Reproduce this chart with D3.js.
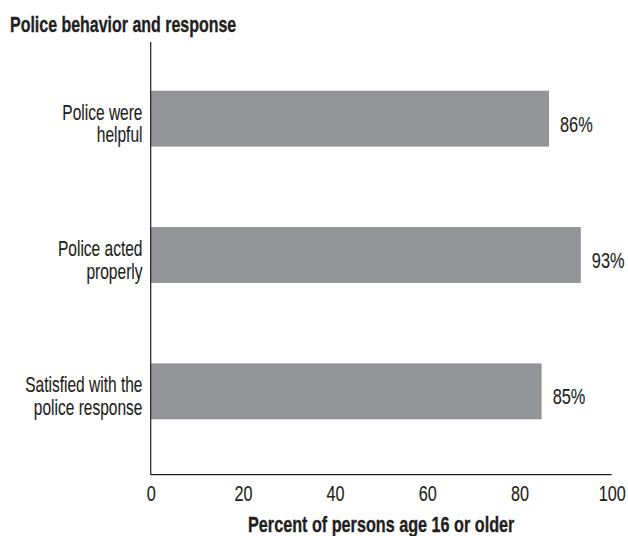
<!DOCTYPE html>
<html>
<head>
<meta charset="utf-8">
<script src="https://cdn.jsdelivr.net/npm/d3@7"></script>
<style>
  html, body { margin: 0; padding: 0; background: #ffffff; }
  svg text { font-family: "Liberation Sans", Arial, sans-serif; fill: #231f20; stroke: #231f20; stroke-width: 0.15; }
  svg text.bold { stroke-width: 0.35; }
</style>
</head>
<body>
<svg id="chart" width="628" height="536"></svg>
<script>
// ---- data ----
const categories = [
  ["Police were", "helpful"],
  ["Police acted", "properly"],
  ["Satisfied with the", "police response"]
];
const values = [86.4, 93.3, 84.8];
const xTicks = [0, 20, 40, 60, 80, 100];
const title = "Police behavior and response";
const xTitle = "Percent of persons age 16 or older";

// ---- layout ----
const x0 = 150.7, x1 = 611.7, yTop = 42, yBase = 474.7;
const fontSize = 22.5;
const barColor = "#939598", ink = "#231f20";

const svg = d3.select("#chart");

const x = d3.scaleLinear().domain([0, 100]).range([x0, x1]);
const y = d3.scaleBand()
  .domain(d3.range(categories.length))
  .range([50.5, 459.5])
  .paddingInner(0.59)
  .paddingOuter(0.295);

// helper: condensed text (horizontally compressed real text)
function ctext(g, px, py, txt, anchor, bold, s) {
  return g.append("g")
    .attr("transform", `translate(${px},${py}) scale(${s},1)`)
    .append("text")
    .attr("class", bold ? "bold" : null)
    .attr("text-anchor", anchor)
    .attr("font-size", fontSize)
    .attr("font-weight", bold ? "bold" : "normal")
    .text(txt);
}

// title
ctext(svg, 10, 32, title, "start", true, 0.71);

// bars
svg.append("g").selectAll("rect")
  .data(values)
  .join("rect")
  .attr("x", x(0))
  .attr("y", (d, i) => y(i))
  .attr("width", d => x(d) - x(0))
  .attr("height", y.bandwidth())
  .attr("fill", barColor);

// value labels
const fmt = d3.format(".0f");
values.forEach((v, i) => {
  const cy = y(i) + y.bandwidth() / 2;
  ctext(svg, x(v) + 11, cy + 13, fmt(v) + "%", "start", false, 0.728);
});

// category labels
categories.forEach((lines, i) => {
  const cy = y(i) + y.bandwidth() / 2;
  lines.forEach((ln, j) => {
    ctext(svg, 142.5, cy + 1 + j * 22.5, ln, "end", false, 0.69);
  });
});

// axes
const xAxis = d3.axisBottom(x).tickValues(xTicks).tickSize(0).tickPadding(0).tickFormat(d3.format("d"));
const gx = svg.append("g").attr("transform", `translate(0,${yBase})`).call(xAxis);
gx.select(".domain").attr("stroke", ink).attr("stroke-width", 1.2).attr("d", `M${x0},0H${x1}`);
gx.selectAll(".tick text").remove();
gx.selectAll(".tick").each(function(d) {
  d3.select(this).append("g")
    .attr("transform", `translate(0,${501 - yBase}) scale(0.72,1)`)
    .append("text")
    .attr("text-anchor", "middle")
    .attr("font-size", fontSize)
    .text(d3.format("d")(d));
});

svg.append("line")
  .attr("x1", x0).attr("x2", x0)
  .attr("y1", yTop).attr("y2", yBase)
  .attr("stroke", ink).attr("stroke-width", 1.2);

// x title
ctext(svg, (x0 + x1) / 2, 532, xTitle, "middle", true, 0.72);
</script>
</body>
</html>
